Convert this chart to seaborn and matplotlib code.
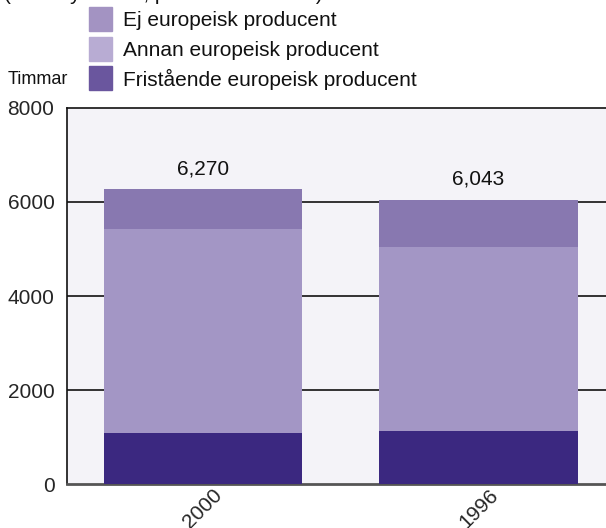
import matplotlib
matplotlib.use("Agg")
import matplotlib.pyplot as plt
import seaborn as sns
import pandas as pd
import numpy as np
from matplotlib.patches import Rectangle

years = ["2000", "1996"]
fristaende = [1095, 1138]
annan = [4320, 3896]
ej = [855, 1009]
totals_labels = ["6,270", "6,043"]
series_names = ["Ej europeisk producent", "Annan europeisk producent", "Fristående europeisk producent"]
yticks = [0, 2000, 4000, 6000, 8000]

sns.set_style("white")
plt.rcParams['font.family'] = ['Liberation Sans', 'DejaVu Sans']

W, H = 606, 528
fig = plt.figure(figsize=(W / 100, H / 100), dpi=100)
ax = fig.add_axes([67 / W, (H - 484) / H, (606 - 67) / W, (484 - 108) / H])
ax.set_facecolor("#f4f3f8")

df = pd.DataFrame({"year": years, "fri": fristaende, "annan": annan, "ej": ej})
df["c1"] = df["fri"]
df["c2"] = df["fri"] + df["annan"]
df["c3"] = df["c2"] + df["ej"]

bar_colors = {"c3": "#8878b0", "c2": "#a396c5", "c1": "#3b2880"}
for col in ["c3", "c2", "c1"]:
    sns.barplot(data=df, x="year", y=col, order=years, color=bar_colors[col],
                width=0.72, saturation=1, ax=ax, zorder=3, linewidth=0)

for i, (tot, lab) in enumerate(zip(df["c3"], totals_labels)):
    ax.annotate(lab, (i, tot), xytext=(0, 8), textcoords="offset points",
                ha="center", va="bottom", fontsize=15, color="#111111")

# axis limits so category centres match the reference
unit = 275.5
ax.set_xlim(-(203 - 67) / unit, 1 + (606 - 478.5) / unit)
ax.set_ylim(0, 8000)
ax.set_yticks(yticks)
ax.set_yticklabels([str(v) for v in yticks], fontsize=15)
for y in yticks[1:-1]:
    ax.axhline(y, color="#111111", lw=1.2, zorder=1)
ax.set_xlabel("")
ax.set_ylabel("")
ax.tick_params(axis="y", length=0, pad=9)
ax.tick_params(axis="x", length=0, pad=1)
for t in ax.get_xticklabels():
    t.set_rotation(45)
    t.set_ha("center")
    t.set_va("top")
    t.set_fontsize(15)
for s in ["left", "top"]:
    ax.spines[s].set_color("#111111")
    ax.spines[s].set_linewidth(1.2)
ax.spines["bottom"].set_color("#555555")
ax.spines["bottom"].set_linewidth(2)
ax.spines["right"].set_visible(False)

# legend drawn manually
leg_colors = ["#a393c2", "#b8acd3", "#6a569e"]
leg_tops = [7, 37, 66]
for name, c, top in zip(series_names, leg_colors, leg_tops):
    fig.patches.append(Rectangle((89 / W, 1 - (top + 24) / H), 23 / W, 24 / H,
                                 transform=fig.transFigure, color=c, figure=fig))
    fig.text(123 / W, 1 - (top + 13) / H, name, fontsize=15, va="center", ha="left",
             color="#111111")

fig.text(8 / W, 1 - 79 / H, "Timmar", fontsize=13, va="center", ha="left", color="#111111")
# subtitle sits mostly above the top edge, as in the reference
fig.text(4 / W, 1 + 0.5 / H, "(Hela systemet, per tillverkarklass)", fontsize=15,
         va="baseline", ha="left", color="#111111")

fig.savefig("out.png", dpi=100, facecolor="white")
